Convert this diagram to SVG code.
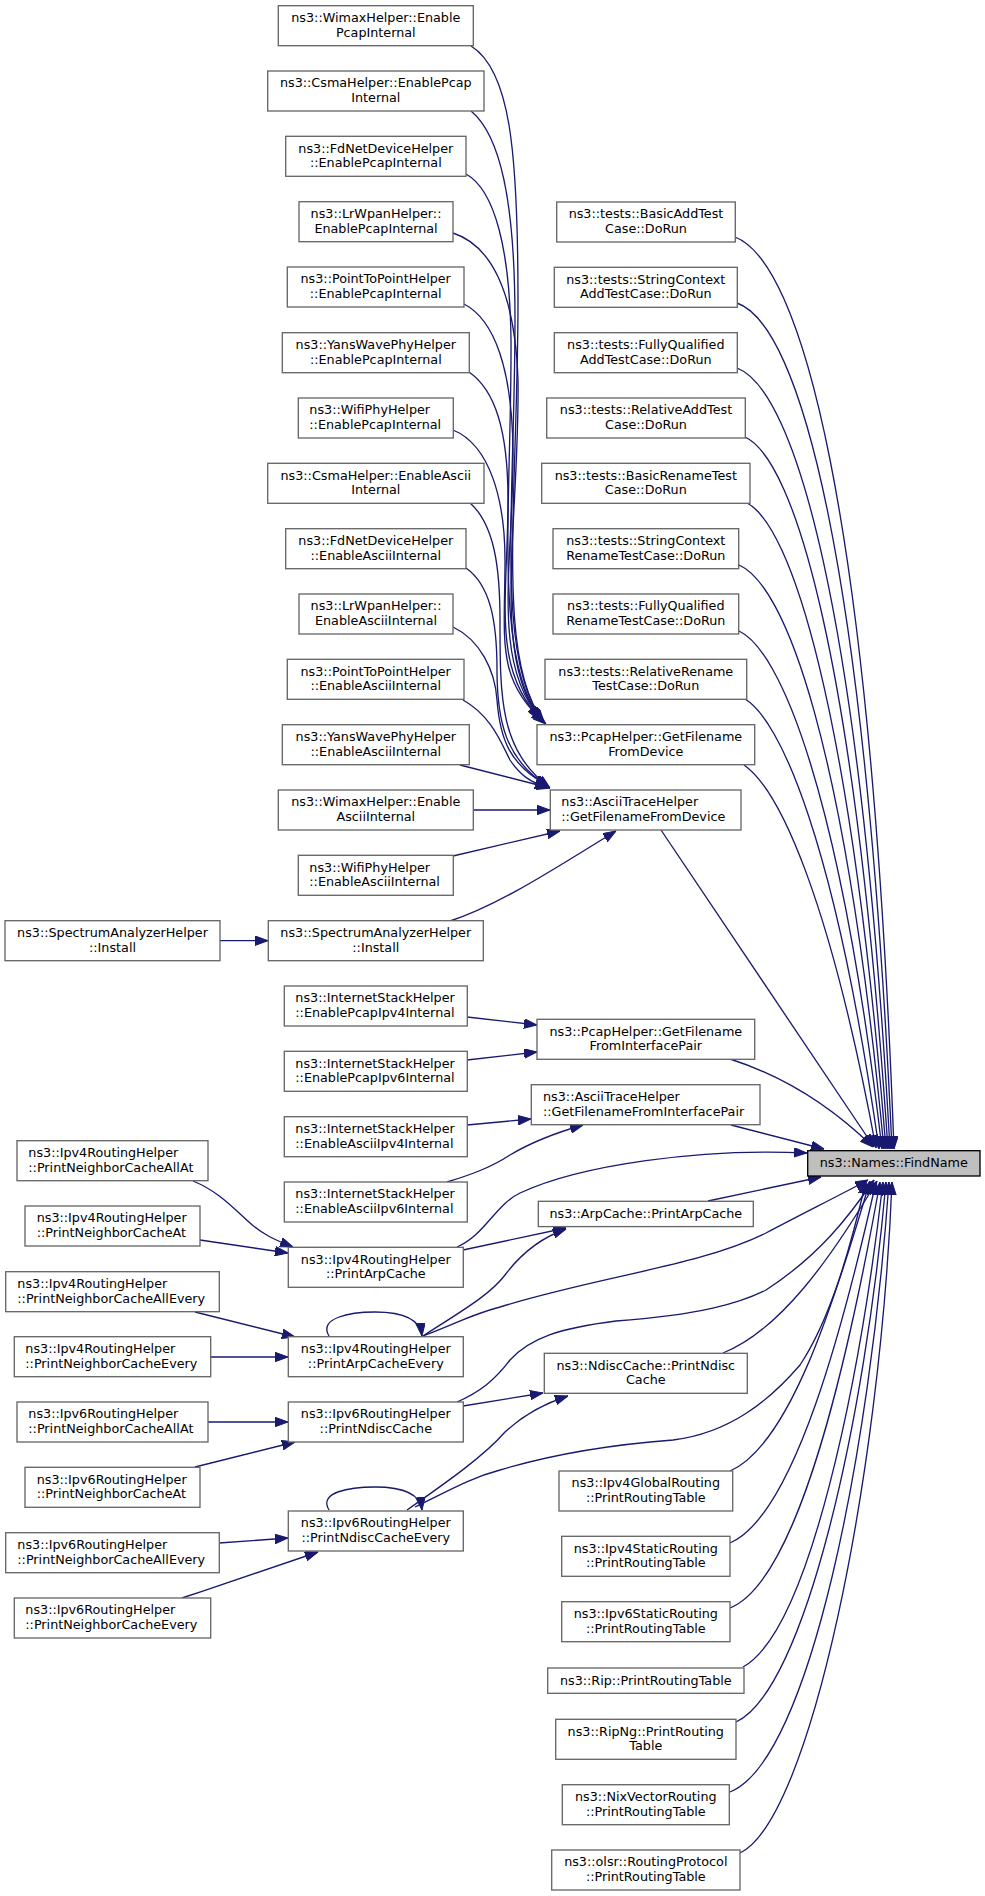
<svg xmlns="http://www.w3.org/2000/svg" width="985" height="1896" viewBox="0 0 985 1896">
<style>
.n rect{fill:#fff;stroke:#666;stroke-width:1.33}
.root rect{fill:#bfbfbf;stroke:#000;stroke-width:1.33}
text{font-family:"DejaVu Sans","Liberation Sans",sans-serif;font-size:12.75px;fill:#000}
.c{text-anchor:middle}
#edges path{fill:none;stroke:#191970;stroke-width:1.33;marker-end:url(#ah)}
</style>
<defs>
<marker id="ah" markerUnits="userSpaceOnUse" markerWidth="13" markerHeight="10" refX="13" refY="4.75" orient="auto">
<polygon points="0,0 13,4.75 0,9.5" fill="#191970" stroke="#191970" stroke-width="1"/>
</marker>
</defs>
<rect width="985" height="1896" fill="#fff"/>
<g id="edges">
<path d="M471,46 C510,70 518,150 518,300 C518,500 495,660 544,722"/>
<path d="M471,111 C500,135 515,200 515,320 C515,500 495,660 543,721"/>
<path d="M466,174 C495,190 510,250 511,340 C512,500 492,660 542,720"/>
<path d="M453,233 C490,245 515,290 518,380 C520,520 490,660 541,719"/>
<path d="M464,304 C495,320 512,370 513,450 C514,560 490,660 540,718"/>
<path d="M469,372 C495,390 508,430 508,500 C508,600 490,670 544,723"/>
<path d="M453,430 C490,445 505,500 505,560 C505,640 495,680 546,724"/>
<path d="M470,503 C495,525 500,570 500,620 C500,700 500,750 550,788"/>
<path d="M466,568 C490,585 497,620 497,670 C497,720 505,760 549,787"/>
<path d="M453,627 C480,640 495,670 497,700 C500,740 510,765 548,786"/>
<path d="M463,700 C490,715 500,740 510,760 C520,775 530,782 548,788"/>
<path d="M460,765 L550,788"/>
<path d="M473,810 L550,810"/>
<path d="M453,856 L560,831"/>
<path d="M450,921 C500,905 560,865 616,831"/>
<path d="M220,940.7 L268,940.7"/>
<path d="M467,1017 L537,1025"/>
<path d="M467,1060 L537,1052"/>
<path d="M467,1125 L531,1119"/>
<path d="M447,1182 C470,1175 490,1168 510,1155 C530,1143 555,1133 583,1125"/>
<path d="M193,1181 C220,1192 235,1210 250,1223 C262,1234 275,1240 293,1247"/>
<path d="M200,1240 L288,1253"/>
<path d="M195,1312 L295,1337"/>
<path d="M211,1357 L288,1357"/>
<path d="M329,1336 C318,1318 350,1312 375,1312 C400,1312 420,1318 422,1336"/>
<path d="M208,1422 L288,1422"/>
<path d="M195,1467 L295,1442"/>
<path d="M219,1543 L288,1538"/>
<path d="M182,1598 C230,1582 280,1565 318,1552"/>
<path d="M329,1510 C318,1492 350,1487 375,1487 C400,1487 420,1492 422,1510"/>
<path d="M463,1250 L566,1228"/>
<path d="M423,1336 C460,1312 490,1295 505,1275 C520,1255 540,1238 566,1229"/>
<path d="M463,1406 L543,1393"/>
<path d="M407,1510 C450,1480 485,1455 505,1432 C520,1418 540,1405 568,1396"/>
<path d="M735,237 C800,262 870,500 894,1149"/>
<path d="M737,303 C800,325 865,560 892,1149"/>
<path d="M737,368 C795,390 860,610 890,1149"/>
<path d="M745,437 C795,460 855,660 888,1149"/>
<path d="M747,503 C790,525 850,700 886,1149"/>
<path d="M739,565 C785,585 845,740 884,1149"/>
<path d="M739,631 C780,650 840,790 882,1149"/>
<path d="M745,699 C780,720 835,840 879,1149"/>
<path d="M744,765 C780,790 830,900 876,1148"/>
<path d="M661,830 L874,1147"/>
<path d="M730,1059 C780,1075 830,1105 873,1147"/>
<path d="M731,1125 L824,1149"/>
<path d="M457,1247 C485,1235 495,1205 520,1193 C580,1165 700,1148 807,1153"/>
<path d="M708,1201 L821,1177"/>
<path d="M423,1336 C460,1322 470,1315 500,1307 C600,1276 700,1266 766,1233 C800,1215 840,1195 868,1180"/>
<path d="M457,1402 C480,1392 495,1380 510,1360 C530,1338 560,1328 616,1321 C700,1315 740,1303 766,1290 C820,1255 850,1215 874,1180"/>
<path d="M723,1353 C780,1330 830,1260 877,1181"/>
<path d="M415,1507 C450,1490 470,1478 500,1470 C560,1452 620,1444 673,1440 C730,1433 770,1400 800,1365 C830,1320 850,1250 866,1181"/>
<path d="M730,1471 C790,1445 835,1300 870,1181"/>
<path d="M730,1543 C795,1515 845,1320 876,1182"/>
<path d="M730,1608 C800,1580 850,1350 880,1182"/>
<path d="M743,1667 C810,1630 860,1380 883,1182"/>
<path d="M736,1722 C805,1690 865,1420 886,1182"/>
<path d="M730,1792 C810,1760 870,1450 889,1182"/>
<path d="M740,1853 C810,1820 880,1480 892,1182"/>
</g>
<g id="n1" class="n"><rect x="278.3" y="5.7" width="195" height="40"/><text class="c" x="375.8" y="22">ns3::WimaxHelper::Enable</text><text class="c" x="375.8" y="36.7">PcapInternal</text></g>
<g id="n2" class="n"><rect x="267.7" y="71" width="216.3" height="40"/><text class="c" x="375.8" y="87.3">ns3::CsmaHelper::EnablePcap</text><text class="c" x="375.8" y="102">Internal</text></g>
<g id="n3" class="n"><rect x="285.7" y="136.3" width="180.3" height="40"/><text class="c" x="375.8" y="152.6">ns3::FdNetDeviceHelper</text><text class="c" x="375.8" y="167.3">::EnablePcapInternal</text></g>
<g id="n4" class="n"><rect x="299" y="201.7" width="154" height="40"/><text class="c" x="376" y="218">ns3::LrWpanHelper::</text><text class="c" x="376" y="232.7">EnablePcapInternal</text></g>
<g id="n5" class="n"><rect x="287.3" y="267" width="176.7" height="40"/><text class="c" x="375.7" y="283.3">ns3::PointToPointHelper</text><text class="c" x="375.7" y="298">::EnablePcapInternal</text></g>
<g id="n6" class="n"><rect x="282.3" y="332.7" width="187" height="40"/><text class="c" x="375.8" y="349">ns3::YansWavePhyHelper</text><text class="c" x="375.8" y="363.7">::EnablePcapInternal</text></g>
<g id="n7" class="n"><rect x="298.3" y="398" width="155" height="40"/><text x="309.3" y="414.3">ns3::WifiPhyHelper</text><text x="309.3" y="429">::EnablePcapInternal</text></g>
<g id="n8" class="n"><rect x="267.7" y="463.3" width="216.3" height="40"/><text class="c" x="375.8" y="479.6">ns3::CsmaHelper::EnableAscii</text><text class="c" x="375.8" y="494.3">Internal</text></g>
<g id="n9" class="n"><rect x="285.7" y="528.7" width="180.3" height="40"/><text class="c" x="375.8" y="545">ns3::FdNetDeviceHelper</text><text class="c" x="375.8" y="559.7">::EnableAsciiInternal</text></g>
<g id="n10" class="n"><rect x="299" y="594" width="154" height="40"/><text class="c" x="376" y="610.3">ns3::LrWpanHelper::</text><text class="c" x="376" y="625">EnableAsciiInternal</text></g>
<g id="n11" class="n"><rect x="287.3" y="659.3" width="176.7" height="40"/><text class="c" x="375.7" y="675.6">ns3::PointToPointHelper</text><text class="c" x="375.7" y="690.3">::EnableAsciiInternal</text></g>
<g id="n12" class="n"><rect x="282.3" y="724.7" width="187" height="40"/><text class="c" x="375.8" y="741">ns3::YansWavePhyHelper</text><text class="c" x="375.8" y="755.7">::EnableAsciiInternal</text></g>
<g id="n13" class="n"><rect x="278.3" y="790" width="195" height="40"/><text class="c" x="375.8" y="806.3">ns3::WimaxHelper::Enable</text><text class="c" x="375.8" y="821">AsciiInternal</text></g>
<g id="n14" class="n"><rect x="298.3" y="855.3" width="155" height="40"/><text x="309.3" y="871.6">ns3::WifiPhyHelper</text><text x="309.3" y="886.3">::EnableAsciiInternal</text></g>
<g id="n15" class="n"><rect x="5" y="920.7" width="215" height="40"/><text class="c" x="112.5" y="937">ns3::SpectrumAnalyzerHelper</text><text class="c" x="112.5" y="951.7">::Install</text></g>
<g id="n16" class="n"><rect x="268.3" y="920.7" width="215" height="40"/><text class="c" x="375.8" y="937">ns3::SpectrumAnalyzerHelper</text><text class="c" x="375.8" y="951.7">::Install</text></g>
<g id="n17" class="n"><rect x="284.3" y="986" width="183" height="40"/><text x="295.3" y="1002.3">ns3::InternetStackHelper</text><text x="295.3" y="1017">::EnablePcapIpv4Internal</text></g>
<g id="n18" class="n"><rect x="284.3" y="1051.3" width="183" height="40"/><text x="295.3" y="1067.6">ns3::InternetStackHelper</text><text x="295.3" y="1082.3">::EnablePcapIpv6Internal</text></g>
<g id="n19" class="n"><rect x="284.3" y="1116.7" width="183" height="40"/><text x="295.3" y="1133">ns3::InternetStackHelper</text><text x="295.3" y="1147.7">::EnableAsciiIpv4Internal</text></g>
<g id="n20" class="n"><rect x="284.3" y="1182" width="183" height="40"/><text x="295.3" y="1198.3">ns3::InternetStackHelper</text><text x="295.3" y="1213">::EnableAsciiIpv6Internal</text></g>
<g id="n21" class="n"><rect x="17" y="1140.7" width="191" height="40"/><text x="28.3" y="1157">ns3::Ipv4RoutingHelper</text><text x="28.3" y="1171.7">::PrintNeighborCacheAllAt</text></g>
<g id="n22" class="n"><rect x="25" y="1206" width="175" height="40"/><text x="36.7" y="1222.3">ns3::Ipv4RoutingHelper</text><text x="36.7" y="1237">::PrintNeighborCacheAt</text></g>
<g id="n23" class="n"><rect x="288.3" y="1247.3" width="175" height="40"/><text class="c" x="375.8" y="1263.6">ns3::Ipv4RoutingHelper</text><text class="c" x="375.8" y="1278.3">::PrintArpCache</text></g>
<g id="n24" class="n"><rect x="5.7" y="1271.7" width="213.6" height="40"/><text x="17.3" y="1288">ns3::Ipv4RoutingHelper</text><text x="17.3" y="1302.7">::PrintNeighborCacheAllEvery</text></g>
<g id="n25" class="n"><rect x="14.3" y="1336.7" width="196.4" height="40"/><text x="25.3" y="1353">ns3::Ipv4RoutingHelper</text><text x="25.3" y="1367.7">::PrintNeighborCacheEvery</text></g>
<g id="n26" class="n"><rect x="288.3" y="1336.7" width="175" height="40"/><text class="c" x="375.8" y="1353">ns3::Ipv4RoutingHelper</text><text class="c" x="375.8" y="1367.7">::PrintArpCacheEvery</text></g>
<g id="n27" class="n"><rect x="17" y="1402" width="191" height="40"/><text x="28.3" y="1418.3">ns3::Ipv6RoutingHelper</text><text x="28.3" y="1433">::PrintNeighborCacheAllAt</text></g>
<g id="n28" class="n"><rect x="288.3" y="1402" width="175" height="40"/><text class="c" x="375.8" y="1418.3">ns3::Ipv6RoutingHelper</text><text class="c" x="375.8" y="1433">::PrintNdiscCache</text></g>
<g id="n29" class="n"><rect x="25" y="1467.3" width="175" height="40"/><text x="36.7" y="1483.6">ns3::Ipv6RoutingHelper</text><text x="36.7" y="1498.3">::PrintNeighborCacheAt</text></g>
<g id="n30" class="n"><rect x="288.3" y="1511" width="175" height="40"/><text class="c" x="375.8" y="1527.3">ns3::Ipv6RoutingHelper</text><text class="c" x="375.8" y="1542">::PrintNdiscCacheEvery</text></g>
<g id="n31" class="n"><rect x="5.7" y="1532.7" width="213.6" height="40"/><text x="17.3" y="1549">ns3::Ipv6RoutingHelper</text><text x="17.3" y="1563.7">::PrintNeighborCacheAllEvery</text></g>
<g id="n32" class="n"><rect x="14.3" y="1598" width="196.4" height="40"/><text x="25.3" y="1614.3">ns3::Ipv6RoutingHelper</text><text x="25.3" y="1629">::PrintNeighborCacheEvery</text></g>
<g id="t1" class="n"><rect x="556.7" y="202" width="178.6" height="40"/><text class="c" x="646" y="218.3">ns3::tests::BasicAddTest</text><text class="c" x="646" y="233">Case::DoRun</text></g>
<g id="t2" class="n"><rect x="554.3" y="267.3" width="183" height="40"/><text class="c" x="645.8" y="283.6">ns3::tests::StringContext</text><text class="c" x="645.8" y="298.3">AddTestCase::DoRun</text></g>
<g id="t3" class="n"><rect x="554.3" y="332.7" width="183" height="40"/><text class="c" x="645.8" y="349">ns3::tests::FullyQualified</text><text class="c" x="645.8" y="363.7">AddTestCase::DoRun</text></g>
<g id="t4" class="n"><rect x="546.7" y="398" width="198.6" height="40"/><text class="c" x="646" y="414.3">ns3::tests::RelativeAddTest</text><text class="c" x="646" y="429">Case::DoRun</text></g>
<g id="t5" class="n"><rect x="541.7" y="463.3" width="208.3" height="40"/><text class="c" x="645.8" y="479.6">ns3::tests::BasicRenameTest</text><text class="c" x="645.8" y="494.3">Case::DoRun</text></g>
<g id="t6" class="n"><rect x="553" y="528.7" width="185.7" height="40"/><text class="c" x="645.8" y="545">ns3::tests::StringContext</text><text class="c" x="645.8" y="559.7">RenameTestCase::DoRun</text></g>
<g id="t7" class="n"><rect x="553" y="594" width="185.7" height="40"/><text class="c" x="645.8" y="610.3">ns3::tests::FullyQualified</text><text class="c" x="645.8" y="625">RenameTestCase::DoRun</text></g>
<g id="t8" class="n"><rect x="545" y="659.3" width="201.7" height="40"/><text class="c" x="645.8" y="675.6">ns3::tests::RelativeRename</text><text class="c" x="645.8" y="690.3">TestCase::DoRun</text></g>
<g id="p1" class="n"><rect x="537" y="724.7" width="217.7" height="40"/><text class="c" x="645.8" y="741">ns3::PcapHelper::GetFilename</text><text class="c" x="645.8" y="755.7">FromDevice</text></g>
<g id="a1" class="n"><rect x="550.3" y="790" width="190.7" height="40"/><text x="561.3" y="806.3">ns3::AsciiTraceHelper</text><text x="561.3" y="821">::GetFilenameFromDevice</text></g>
<g id="p2" class="n"><rect x="537" y="1019.3" width="217.7" height="40"/><text class="c" x="645.8" y="1035.6">ns3::PcapHelper::GetFilename</text><text class="c" x="645.8" y="1050.3">FromInterfacePair</text></g>
<g id="a2" class="n"><rect x="531.3" y="1084.7" width="228.7" height="40"/><text x="543" y="1101">ns3::AsciiTraceHelper</text><text x="543" y="1115.7">::GetFilenameFromInterfacePair</text></g>
<g id="root" class="root"><rect x="807.7" y="1150.7" width="172.3" height="25.3"/><text class="c" x="893.8" y="1167.4">ns3::Names::FindName</text></g>
<g id="arp" class="n"><rect x="538.3" y="1201.3" width="215" height="25.3"/><text class="c" x="645.8" y="1218">ns3::ArpCache::PrintArpCache</text></g>
<g id="nd" class="n"><rect x="544.3" y="1353.3" width="203" height="40"/><text class="c" x="645.8" y="1369.6">ns3::NdiscCache::PrintNdisc</text><text class="c" x="645.8" y="1384.3">Cache</text></g>
<g id="r1" class="n"><rect x="559" y="1471" width="173.7" height="40"/><text class="c" x="645.8" y="1487.3">ns3::Ipv4GlobalRouting</text><text class="c" x="645.8" y="1502">::PrintRoutingTable</text></g>
<g id="r2" class="n"><rect x="561.7" y="1536.3" width="168.3" height="40"/><text class="c" x="645.8" y="1552.6">ns3::Ipv4StaticRouting</text><text class="c" x="645.8" y="1567.3">::PrintRoutingTable</text></g>
<g id="r3" class="n"><rect x="561.7" y="1601.7" width="168.3" height="40"/><text class="c" x="645.8" y="1618">ns3::Ipv6StaticRouting</text><text class="c" x="645.8" y="1632.7">::PrintRoutingTable</text></g>
<g id="r4" class="n"><rect x="547.7" y="1668" width="196.3" height="25.3"/><text class="c" x="645.8" y="1684.7">ns3::Rip::PrintRoutingTable</text></g>
<g id="r5" class="n"><rect x="555.7" y="1719.3" width="180.3" height="40"/><text class="c" x="645.8" y="1735.6">ns3::RipNg::PrintRouting</text><text class="c" x="645.8" y="1750.3">Table</text></g>
<g id="r6" class="n"><rect x="562.3" y="1784.7" width="167" height="40"/><text class="c" x="645.8" y="1801">ns3::NixVectorRouting</text><text class="c" x="645.8" y="1815.7">::PrintRoutingTable</text></g>
<g id="r7" class="n"><rect x="551.7" y="1850" width="188.3" height="40"/><text class="c" x="645.8" y="1866.3">ns3::olsr::RoutingProtocol</text><text class="c" x="645.8" y="1881">::PrintRoutingTable</text></g>
</svg>
